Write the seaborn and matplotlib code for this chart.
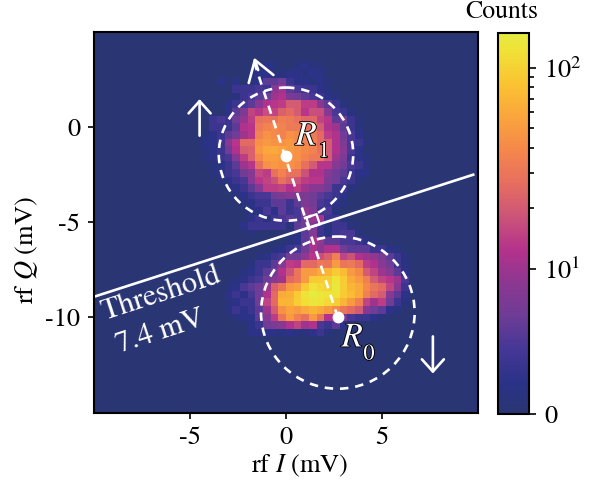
"""Single-shot rf I/Q histogram with readout threshold and R0/R1 clusters."""

import numpy as np
import matplotlib
matplotlib.use("Agg")
import matplotlib.pyplot as plt
import matplotlib.patheffects as pe
from matplotlib.colors import LinearSegmentedColormap, SymLogNorm
from matplotlib.patches import Ellipse, Rectangle
import seaborn as sns

# counts, one list per row, bins are 0.4 mV wide
BIN_MV = 0.4
I_MIN, Q_MAX = -10.0, 5.0
N_BINS = 50

upper_first_row, upper_first_col = 4, 14
upper_counts = [
    [0, 0, 0, 0, 0, 0, 0, 0, 2, 1, 0, 0, 1, 2, 1, 1, 0, 0, 0, 0, 0, 0],
    [0, 0, 0, 0, 0, 0, 1, 2, 2, 1, 1, 2, 2, 1, 2, 2, 0, 0, 0, 0, 0, 0],
    [0, 0, 2, 0, 2, 0, 1, 2, 5, 5, 6, 3, 2, 2, 1, 2, 1, 0, 0, 0, 0, 0],
    [0, 0, 0, 0, 3, 3, 3, 4, 3, 8, 10, 5, 4, 3, 3, 2, 1, 0, 0, 0, 0, 0],
    [0, 0, 0, 0, 1, 3, 4, 5, 6, 10, 12, 7, 6, 5, 4, 3, 2, 1, 0, 0, 0, 0],
    [0, 0, 0, 2, 3, 4, 5, 8, 12, 13, 14, 20, 20, 14, 14, 8, 5, 3, 1, 0, 0, 0],
    [0, 0, 0, 2, 5, 7, 15, 13, 17, 15, 22, 25, 20, 13, 17, 17, 8, 4, 3, 1, 0, 0],
    [0, 3, 4, 3, 6, 9, 14, 28, 30, 28, 34, 32, 28, 24, 24, 15, 13, 5, 6, 3, 1, 0],
    [0, 3, 3, 3, 5, 12, 13, 32, 36, 40, 36, 32, 32, 28, 30, 20, 12, 10, 5, 3, 1, 0],
    [1, 2, 3, 5, 6, 10, 13, 36, 44, 40, 36, 44, 40, 36, 32, 25, 14, 12, 6, 4, 2, 0],
    [2, 2, 3, 8, 13, 25, 25, 44, 48, 44, 44, 48, 40, 36, 36, 25, 20, 12, 7, 4, 3, 1],
    [1, 2, 3, 6, 12, 20, 22, 48, 58, 60, 55, 50, 44, 40, 36, 28, 20, 12, 8, 4, 2, 0],
    [1, 2, 3, 4, 8, 14, 22, 40, 52, 52, 48, 44, 44, 36, 32, 32, 20, 10, 7, 3, 2, 1],
    [0, 1, 2, 3, 5, 10, 13, 28, 44, 48, 44, 44, 40, 28, 20, 13, 13, 8, 6, 4, 3, 1],
    [0, 1, 2, 3, 4, 6, 8, 16, 14, 28, 36, 28, 28, 18, 12, 12, 8, 6, 5, 3, 2, 2],
    [0, 0, 1, 2, 3, 4, 8, 13, 15, 18, 28, 22, 18, 14, 13, 13, 7, 6, 4, 3, 1, 0],
    [0, 0, 0, 1, 2, 3, 5, 8, 14, 14, 15, 12, 14, 10, 8, 8, 6, 3, 3, 1, 0, 0],
    [0, 0, 0, 0, 1, 2, 3, 4, 4, 6, 7, 8, 7, 7, 6, 5, 4, 3, 2, 0, 0, 0],
    [0, 0, 0, 0, 0, 1, 2, 3, 3, 5, 5, 3, 5, 7, 6, 4, 3, 2, 1, 0, 0, 0],
    [0, 0, 0, 0, 0, 0, 1, 2, 4, 2, 5, 3, 4, 9, 7, 3, 4, 1, 0, 0, 0, 0],
]

lower_first_row, lower_first_col = 24, 17
lower_counts = [
    [0, 0, 0, 2, 3, 1, 3, 4, 5, 4, 6, 10, 11, 3, 3, 1, 0, 0, 0, 0, 0, 0, 0, 0],
    [0, 0, 2, 3, 3, 3, 3, 3, 1, 5, 6, 7, 3, 1, 3, 3, 1, 0, 0, 0, 0, 0, 0, 0],
    [0, 0, 0, 1, 0, 0, 0, 0, 0, 1, 5, 8, 3, 2, 3, 4, 4, 1, 0, 0, 0, 0, 0, 0],
    [0, 0, 0, 0, 0, 0, 0, 0, 1, 2, 5, 11, 9, 5, 5, 4, 4, 3, 2, 1, 0, 0, 0, 0],
    [0, 0, 0, 0, 0, 0, 1, 2, 3, 4, 6, 11, 8, 12, 12, 6, 5, 5, 5, 3, 3, 2, 1, 0],
    [0, 0, 0, 0, 1, 2, 3, 4, 6, 6, 9, 13, 17, 22, 35, 15, 18, 12, 10, 9, 7, 5, 3, 1],
    [0, 0, 0, 1, 3, 3, 5, 8, 14, 13, 25, 25, 32, 30, 50, 30, 32, 25, 14, 12, 8, 6, 3, 1],
    [0, 0, 1, 2, 3, 5, 6, 12, 18, 30, 50, 50, 60, 70, 90, 75, 50, 40, 20, 15, 10, 8, 5, 2],
    [0, 1, 2, 3, 4, 6, 8, 10, 25, 30, 50, 90, 90, 95, 130, 90, 60, 50, 35, 20, 15, 13, 10, 4],
    [1, 2, 4, 5, 6, 10, 22, 30, 50, 55, 90, 125, 110, 100, 135, 95, 70, 60, 40, 30, 25, 15, 8, 3],
    [2, 3, 2, 4, 6, 12, 25, 60, 65, 90, 130, 145, 135, 125, 130, 90, 75, 60, 35, 25, 20, 8, 5, 2],
    [1, 2, 3, 3, 6, 15, 25, 70, 70, 95, 120, 135, 130, 110, 95, 70, 50, 35, 15, 10, 14, 6, 3, 1],
    [1, 3, 2, 3, 5, 10, 20, 45, 55, 50, 60, 70, 60, 50, 40, 30, 25, 20, 8, 6, 5, 2, 1, 0],
    [0, 1, 2, 2, 5, 8, 14, 30, 50, 35, 28, 50, 30, 12, 12, 6, 4, 3, 3, 2, 1, 0, 0, 0],
    [0, 0, 0, 2, 3, 6, 7, 8, 12, 15, 10, 12, 4, 3, 5, 2, 1, 0, 0, 0, 0, 0, 0, 0],
    [0, 0, 0, 2, 2, 2, 2, 1, 2, 1, 1, 2, 3, 1, 0, 0, 0, 0, 0, 0, 0, 0, 0, 0],
]

x_ticks = [-5, 0, 5]
x_tick_labels = ["-5", "0", "5"]
y_ticks = [0, -5, -10]
y_tick_labels = ["0", "-5", "-10"]
cbar_ticks = [0, 10, 100]
cbar_tick_labels = ["0", "$10^1$", "$10^2$"]
cbar_minor_ticks = [20, 30, 40, 50, 60, 70, 80, 90]

cmap_colors = [
    (0.000, "#2a3673"), (0.080, "#2a3287"), (0.170, "#463796"),
    (0.257, "#6e3c96"), (0.344, "#8c3791"), (0.430, "#b4328c"),
    (0.520, "#cd5578"), (0.606, "#e66e5f"), (0.693, "#f5874b"),
    (0.780, "#faa53c"), (0.867, "#fac332"), (0.955, "#f0e137"),
    (1.000, "#e6eb41"),
]

plt.rcParams["font.family"] = "STIXGeneral"
plt.rcParams["mathtext.fontset"] = "stix"
plt.rcParams["font.size"] = 19


def to_x(i_mv):
    return (i_mv - I_MIN) / BIN_MV


def to_y(q_mv):
    return (Q_MAX - q_mv) / BIN_MV


counts = np.zeros((N_BINS, N_BINS))
block = np.array(upper_counts, dtype=float)
counts[upper_first_row:upper_first_row + block.shape[0],
       upper_first_col:upper_first_col + block.shape[1]] = block
block = np.array(lower_counts, dtype=float)
counts[lower_first_row:lower_first_row + block.shape[0],
       lower_first_col:lower_first_col + block.shape[1]] = block

W, H = 594, 482
fig = plt.figure(figsize=(W / 100, H / 100), dpi=100)
ax = fig.add_axes([94 / W, 1 - 412.5 / H, 384 / W, 380.5 / H])
cax = fig.add_axes([498 / W, 1 - 414 / H, 31 / W, 381.5 / H])

cmap = LinearSegmentedColormap.from_list("counts", cmap_colors)
norm = SymLogNorm(linthresh=5, linscale=0.38, vmin=0, vmax=150, base=10)
sns.heatmap(counts, ax=ax, cbar_ax=cax, cmap=cmap, norm=norm,
            xticklabels=False, yticklabels=False,
            cbar_kws={"ticks": cbar_ticks})

for spine in ax.spines.values():
    spine.set_visible(True)
    spine.set_linewidth(1.5)
ax.set_xticks([to_x(v) for v in x_ticks], x_tick_labels)
ax.set_yticks([to_y(v) for v in y_ticks], y_tick_labels, rotation=0)
ax.tick_params(length=4, width=1.2, labelsize=19, pad=6)
ax.set_xlabel("rf $I$ (mV)", fontsize=19)
ax.set_ylabel("rf $Q$ (mV)", fontsize=19)
ax.xaxis.set_label_coords(0.535, -0.105)
ax.yaxis.set_label_coords(-0.14, 0.427)

cbar = ax.collections[0].colorbar
cbar.outline.set_visible(True)
cbar.outline.set_linewidth(1.5)
cbar.outline.set_edgecolor("black")
cax.set_yticks(cbar_ticks, cbar_tick_labels)
cax.set_yticks(cbar_minor_ticks, minor=True)
cax.tick_params(which="major", length=5, width=1.2, labelsize=19, pad=6)
cax.tick_params(which="minor", length=3.5, width=1.2)
fig.text(502 / W, 1 - 12 / H, "Counts", ha="center", va="center", fontsize=18.5)

dashes = (0, (3.2, 2.6))

# circles around the two readout clusters
for centre, radius in [((0.0, -1.42), 3.5), ((2.7, -9.75), 4.0)]:
    ax.add_patch(Ellipse((to_x(centre[0]), to_y(centre[1])),
                         2 * radius / BIN_MV, 2 * radius / BIN_MV,
                         fill=False, edgecolor="white", linewidth=1.9,
                         linestyle=dashes))

# threshold line
ax.plot([to_x(-9.95), to_x(9.75)], [to_y(-8.9), to_y(-2.5)], color="white", lw=1.9)

# dashed line between R0 and R1 with the arrow beyond R1
ax.plot([to_x(2.7), to_x(-1.7)], [to_y(-10.0), to_y(3.55)], color="white", lw=1.9,
        linestyle=dashes)
ax.annotate("", xy=(to_x(-1.66), to_y(3.65)), xytext=(to_x(-1.45), to_y(3.0)),
            arrowprops=dict(arrowstyle="->,head_length=0.4,head_width=0.26", color="white",
                            lw=1.9, mutation_scale=36, shrinkA=0, shrinkB=0))
ax.plot([to_x(0.0), to_x(2.7)], [to_y(-1.5), to_y(-10.0)], "o", color="white", ms=8.5, mew=0)

# little square where the two lines cross
ax.add_patch(Rectangle((to_x(1.41) - 0.7, to_y(-4.93) - 0.7), 1.4, 1.4, angle=-18,
                       rotation_point="center", fill=False, edgecolor="white", linewidth=1.6))

# spin direction arrows
head = "->,head_length=0.4,head_width=0.36"
ax.annotate("", xy=(to_x(-4.5), to_y(1.47)), xytext=(to_x(-4.5), to_y(-0.45)),
            arrowprops=dict(arrowstyle=head, color="white", lw=1.9, mutation_scale=22,
                            shrinkA=0, shrinkB=0))
ax.annotate("", xy=(to_x(7.65), to_y(-12.95)), xytext=(to_x(7.65), to_y(-11.0)),
            arrowprops=dict(arrowstyle=head, color="white", lw=1.9, mutation_scale=22,
                            shrinkA=0, shrinkB=0))

# state labels, subscripts placed apart as in the original
outline = [pe.withStroke(linewidth=1.3, foreground="black")]
ax.text(to_x(1.09), to_y(-0.52), "$R$", color="white", fontsize=25, ha="center",
        va="center", path_effects=outline)
ax.text(to_x(1.98), to_y(-1.31), "1", color="white", fontsize=16, ha="center",
        va="center", path_effects=outline)
ax.text(to_x(3.49), to_y(-11.12), "$R$", color="white", fontsize=25, ha="center",
        va="center", path_effects=outline)
ax.text(to_x(4.32), to_y(-11.96), "0", color="white", fontsize=16, ha="center",
        va="center", path_effects=outline)

ax.text(to_x(-6.5), to_y(-8.8), "Threshold", color="white", fontsize=22, rotation=18,
        ha="center", va="center")
ax.text(to_x(-6.55), to_y(-10.8), "7.4 mV", color="white", fontsize=22, rotation=18,
        ha="center", va="center")

fig.savefig("out.png", dpi=100)
